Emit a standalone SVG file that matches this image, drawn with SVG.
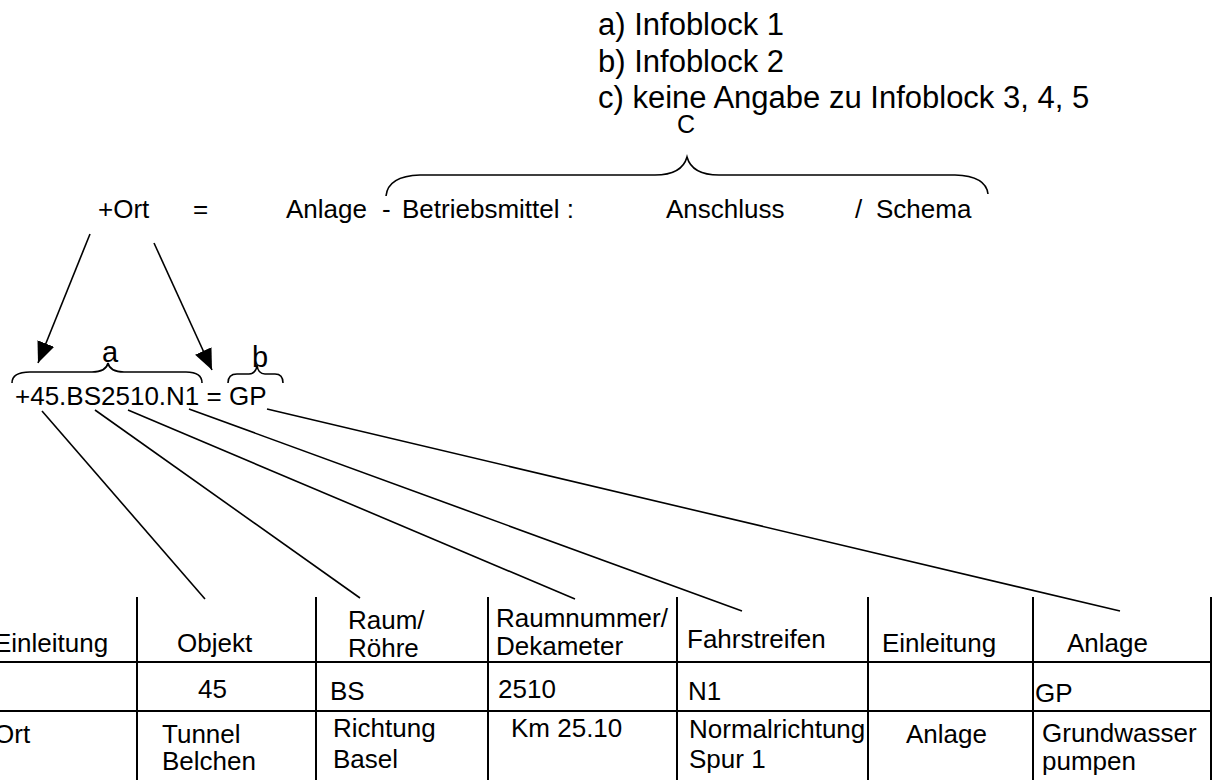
<svg xmlns="http://www.w3.org/2000/svg" width="1215" height="780" viewBox="0 0 1215 780">
  <style>
    text { font-family: "Liberation Sans", Arial, sans-serif; fill: #000; }
    .t26 { font-size: 26px; }
    .t31 { font-size: 31px; }
    .lbl { font-size: 29px; text-anchor: middle; }
    .brace { fill: none; stroke: #000; stroke-width: 1.6; }
    .conn { fill: none; stroke: #000; stroke-width: 1.6; }
    .grid { fill: none; stroke: #000; stroke-width: 2; }
  </style>
  <defs>
    <marker id="head" markerUnits="userSpaceOnUse" markerWidth="22" markerHeight="18" refX="21" refY="9" orient="auto">
      <path d="M0,0 L21,9 L0,18 z" fill="#000"/>
    </marker>
  </defs>

  <!-- legend of the information blocks -->
  <g id="legend">
    <text class="t31" x="598" y="35">a) Infoblock 1</text>
    <text class="t31" x="598" y="72">b) Infoblock 2</text>
    <text class="t31" x="598" y="108">c) keine Angabe zu Infoblock 3, 4, 5</text>
  </g>

  <!-- general scheme line -->
  <g id="scheme">
    <text class="t26" x="98" y="218">+Ort</text>
    <text class="t26" x="193" y="218">=</text>
    <text class="t26" x="286" y="218">Anlage</text>
    <text class="t26" x="382" y="218">-</text>
    <text class="t26" x="402" y="218">Betriebsmittel :</text>
    <text class="t26" x="666" y="218">Anschluss</text>
    <text class="t26" x="855" y="218">/</text>
    <text class="t26" x="876" y="218">Schema</text>
  </g>

  <!-- brace C over the last blocks -->
  <g id="brace-c">
    <path class="brace" d="M386,196 Q388,176 420,175 L655,175 Q682,175 687,157 Q692,175 719,175 L955,175 Q986,176 988,194"/>
    <text x="686" y="133" style="font-size:25px;text-anchor:middle">C</text>
  </g>

  <!-- example designation -->
  <g id="example">
    <text class="t26" x="15" y="405">+45.BS2510.N1 = GP</text>
  </g>

  <g id="brace-a">
    <path class="brace" d="M12,383 Q12,372 30,372 L92,372 Q106,372 108,363 Q110,372 124,372 L186,372 Q202,372 202,383"/>
    <text class="lbl" x="110" y="362">a</text>
  </g>

  <g id="brace-b">
    <path class="brace" d="M228,383 Q228,374 237,374 L249,374 Q256,374 257,365 Q258,374 265,374 L275,374 Q283,374 283,383"/>
    <text class="lbl" x="260" y="367">b</text>
  </g>

  <!-- connectors -->
  <g id="connectors">
    <line class="conn" x1="90" y1="234" x2="38" y2="363" marker-end="url(#head)"/>
    <line class="conn" x1="154" y1="243" x2="212" y2="370" marker-end="url(#head)"/>
    <line class="conn" x1="42" y1="411" x2="205" y2="599"/>
    <line class="conn" x1="95" y1="410" x2="360" y2="598"/>
    <line class="conn" x1="128" y1="410" x2="575" y2="599"/>
    <line class="conn" x1="189" y1="409" x2="742" y2="611"/>
    <line class="conn" x1="267" y1="409" x2="1120" y2="611"/>
  </g>

  <!-- table grid -->
  <g id="table-grid">
    <line class="grid" x1="0" y1="662" x2="1212" y2="662"/>
    <line class="grid" x1="0" y1="711" x2="1212" y2="711"/>
    <line class="grid" x1="137" y1="597" x2="137" y2="780"/>
    <line class="grid" x1="316" y1="597" x2="316" y2="780"/>
    <line class="grid" x1="488" y1="597" x2="488" y2="780"/>
    <line class="grid" x1="677" y1="597" x2="677" y2="780"/>
    <line class="grid" x1="868" y1="597" x2="868" y2="780"/>
    <line class="grid" x1="1033" y1="597" x2="1033" y2="780"/>
    <line class="grid" x1="1211" y1="597" x2="1211" y2="780"/>
  </g>

  <!-- table header -->
  <g id="table-header" class="t26">
    <text class="t26" x="-6" y="652">Einleitung</text>
    <text class="t26" x="177" y="652">Objekt</text>
    <text class="t26" x="348" y="629">Raum/</text>
    <text class="t26" x="348" y="657">Röhre</text>
    <text class="t26" x="496" y="627">Raumnummer/</text>
    <text class="t26" x="496" y="655">Dekameter</text>
    <text class="t26" x="687" y="648">Fahrstreifen</text>
    <text class="t26" x="882" y="652">Einleitung</text>
    <text class="t26" x="1067" y="652">Anlage</text>
  </g>

  <!-- table codes -->
  <g id="table-codes">
    <text class="t26" x="198" y="698">45</text>
    <text class="t26" x="330" y="700">BS</text>
    <text class="t26" x="498" y="698">2510</text>
    <text class="t26" x="688" y="700">N1</text>
    <text class="t26" x="1035" y="702">GP</text>
  </g>

  <!-- table meanings -->
  <g id="table-meaning">
    <text class="t26" x="-6" y="743">Ort</text>
    <text class="t26" x="162" y="743">Tunnel</text>
    <text class="t26" x="162" y="770">Belchen</text>
    <text class="t26" x="333" y="737">Richtung</text>
    <text class="t26" x="333" y="768">Basel</text>
    <text class="t26" x="511" y="737">Km 25.10</text>
    <text class="t26" x="689" y="738">Normalrichtung</text>
    <text class="t26" x="689" y="768">Spur 1</text>
    <text class="t26" x="906" y="743">Anlage</text>
    <text class="t26" x="1042" y="742">Grundwasser</text>
    <text class="t26" x="1042" y="770">pumpen</text>
  </g>
</svg>
